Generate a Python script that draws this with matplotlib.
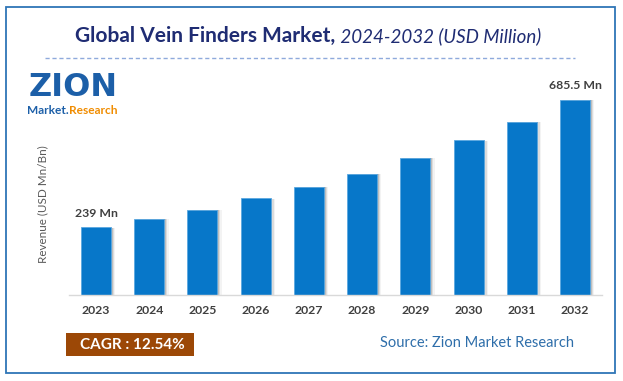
import matplotlib
matplotlib.use("Agg")
import matplotlib.pyplot as plt
from matplotlib.patches import Rectangle
from matplotlib.lines import Line2D

years = ["2023", "2024", "2025", "2026", "2027", "2028", "2029", "2030", "2031", "2032"]
revenue = [239, 268, 300, 340, 381, 426, 482, 543, 609, 685.5]
first_label = "239 Mn"
last_label = "685.5 Mn"
title_bold = "Global Vein Finders Market,"
title_italic = "2024-2032 (USD Million)"
ylabel = "Revenue (USD Mn/Bn)"
cagr_text = "CAGR : 12.54%"
source_text = "Source: Zion Market Research"

FONT = ["Lato", "DejaVu Sans"]
plt.rcParams["font.family"] = FONT

W, H = 623, 381
fig = plt.figure(figsize=(W / 100, H / 100), dpi=100)
fig.patch.set_facecolor("white")

def fx(px):
    return px / W

def fy(py):
    return 1 - py / H

# Outer border
fig.add_artist(Rectangle((fx(6), fy(373)), fx(615) - fx(6), fy(7) - fy(373),
                         transform=fig.transFigure, fill=False,
                         edgecolor="#2E75B6", linewidth=1.3))

# Dashed line under title
fig.add_artist(Line2D([fx(45), fx(575)], [fy(58), fy(58)], transform=fig.transFigure,
                      color="#8FAADC", linewidth=1.0, linestyle=(0, (3, 2))))

# Axes
ax_left, ax_right = 69.4, 601.6
ax_top, ax_bottom = 80, 295
ax = fig.add_axes([fx(ax_left), fy(ax_bottom), fx(ax_right) - fx(ax_left), (ax_bottom - ax_top) / H])
x = list(range(len(years)))
width = 0.565
# shadow layers
for off, a in [(0.03, 0.22), (0.055, 0.14), (0.08, 0.07)]:
    ax.bar([i + off for i in x], [v - 2 for v in revenue], width=width, color="#555555",
           alpha=a, zorder=1, linewidth=0)
ax.bar(x, revenue, width=width, color="#0777C9", edgecolor="#5AA8E0", linewidth=0.6, zorder=2)

ax.set_xlim(-0.5, len(years) - 0.5)
ax.set_ylim(0, 755)
ax.set_xticks(x)
ax.set_xticklabels(years, fontsize=8.8, fontweight="bold", color="#404040")
ax.tick_params(axis="x", length=0, pad=7)
ax.set_yticks([])
for s in ["top", "right", "left"]:
    ax.spines[s].set_visible(False)
ax.spines["bottom"].set_color("#D9D9D9")
ax.spines["bottom"].set_linewidth(1.0)
ax.patch.set_alpha(0)

ax.annotate(first_label, (0, revenue[0]), xytext=(0, 6), textcoords="offset points",
            ha="center", va="bottom", fontsize=8.8, fontweight="bold", color="#404040")
ax.annotate(last_label, (9, revenue[-1]), xytext=(0, 6), textcoords="offset points",
            ha="center", va="bottom", fontsize=8.8, fontweight="bold", color="#404040")

fig.text(fx(43), fy(204), ylabel, rotation=90, ha="center", va="center",
         fontsize=8.4, color="#595959")

# Title (two styles) centered
t1 = fig.text(0, fy(36), title_bold, fontsize=15, fontweight="bold", color="#1F2C73",
              ha="left", va="center")
t2 = fig.text(0, fy(36), " " + title_italic, fontsize=13.5, style="italic", color="#1F2C73",
              ha="left", va="center")

# Logo approximation
z = fig.text(fx(73), fy(88), "ZION", ha="center", va="center", fontsize=23,
             fontweight="heavy", color="#1C5FA8", family=["DejaVu Sans"])
m1 = fig.text(0, fy(110), "Market.", ha="left", va="center", fontsize=8.6,
              fontweight="bold", color="#1C5FA8")
m2 = fig.text(0, fy(110), "Research", ha="left", va="center", fontsize=8.6,
              fontweight="bold", color="#F08C00")

fig.canvas.draw()
r = fig.canvas.get_renderer()
w1 = t1.get_window_extent(r).width
w2 = t2.get_window_extent(r).width
start = 308 - (w1 + w2) / 2
t1.set_x(fx(start))
t2.set_x(fx(start + w1))

mw1 = m1.get_window_extent(r).width
mw2 = m2.get_window_extent(r).width
mstart = 72 - (mw1 + mw2) / 2
m1.set_x(fx(mstart))
m2.set_x(fx(mstart + mw1))

# CAGR box
fig.add_artist(Rectangle((fx(66), fy(356)), fx(194) - fx(66), fy(333) - fy(356),
                         transform=fig.transFigure, facecolor="#9C4806", edgecolor="none"))
fig.text(fx(132), fy(345), cagr_text, ha="center", va="center", fontsize=11,
         fontweight="bold", color="white")

fig.text(fx(477), fy(343), source_text, ha="center", va="center", fontsize=10.5,
         color="#2E6EAA")

fig.savefig("out.png", dpi=100, facecolor="white")
